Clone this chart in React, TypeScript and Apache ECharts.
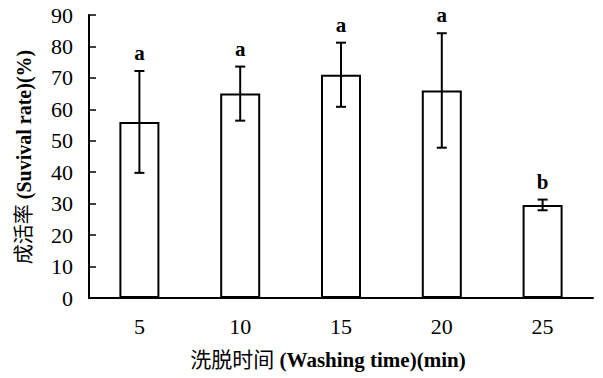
import React, { useEffect, useRef } from 'react';
import * as echarts from 'echarts';

const categories = ['5', '10', '15', '20', '25'];
const means = [56, 65, 71, 66, 29.6];
const errors = [16.2, 8.6, 10.2, 18.2, 1.7];
const letters = ['a', 'a', 'a', 'a', 'b'];
const yMin = 0;
const yMax = 90;
const yInterval = 10;
const yTitleCn = '成活率 ';
const yTitleEn = '(Suvival rate)(%)';
const xTitleCn = '洗脱时间 ';
const xTitleEn = '(Washing time)(min)';

const FONT = 'Liberation Serif, Noto Sans CJK SC, serif';

export default function App() {
  const ref = useRef<HTMLDivElement>(null);
  useEffect(() => {
    if (!ref.current) return;
    const chart = echarts.init(ref.current, undefined, { renderer: 'svg' });
    const errData = categories.map((_, i) => [i, means[i] - errors[i], means[i] + errors[i]]);
    chart.setOption({
      animation: false,
      backgroundColor: '#fff',
      textStyle: { fontFamily: FONT },
      grid: { left: 89, right: 10, top: 15, bottom: 80, containLabel: false },
      xAxis: {
        type: 'category',
        data: categories,
        axisLine: { lineStyle: { color: '#000', width: 2 } },
        axisTick: { inside: true, length: 6, alignWithLabel: false, lineStyle: { color: '#000', width: 1.5 } },
        axisLabel: { color: '#000', fontSize: 22, fontFamily: FONT, margin: 17 },
        splitLine: { show: false },
      },
      yAxis: {
        type: 'value',
        min: yMin,
        max: yMax,
        interval: yInterval,
        axisLine: { show: true, lineStyle: { color: '#000', width: 2 } },
        axisTick: { show: true, inside: true, length: 7, lineStyle: { color: '#000', width: 1.5 } },
        axisLabel: { color: '#000', fontSize: 22, fontFamily: FONT, margin: 16 },
        splitLine: { show: false },
      },
      series: [
        {
          type: 'bar',
          data: means,
          barWidth: 40,
          itemStyle: { color: '#fff', borderColor: '#000', borderWidth: 2 },
          z: 2,
        },
        {
          type: 'custom',
          data: errData,
          z: 3,
          renderItem: (params: any, api: any) => {
            const x = api.value(0);
            const lo = api.value(1);
            const hi = api.value(2);
            const pTop = api.coord([x, hi]);
            const pBot = api.coord([x, lo]);
            const cx = pTop[0];
            const hw = 5;
            const st = { stroke: '#000', lineWidth: 2 };
            return {
              type: 'group',
              children: [
                { type: 'line', shape: { x1: cx, y1: pTop[1], x2: cx, y2: pBot[1] }, style: st },
                { type: 'line', shape: { x1: cx - hw, y1: pTop[1], x2: cx + hw, y2: pTop[1] }, style: st },
                { type: 'line', shape: { x1: cx - hw, y1: pBot[1], x2: cx + hw, y2: pBot[1] }, style: st },
                {
                  type: 'text',
                  x: cx,
                  y: pTop[1] - 18,
                  style: {
                    text: letters[params.dataIndex],
                    fontSize: 21,
                    fontWeight: 'bold',
                    fontFamily: FONT,
                    fill: '#000',
                    align: 'center',
                    verticalAlign: 'middle',
                  },
                },
              ],
            };
          },
        },
      ],
      graphic: [
        {
          type: 'text',
          x: 24,
          y: 157,
          rotation: Math.PI / 2,
          style: {
            text: `{c|${yTitleCn}}{b|${yTitleEn}}`,
            align: 'center',
            verticalAlign: 'middle',
            rich: {
              c: { fontSize: 20, fontFamily: FONT, fill: '#000', color: '#000' },
              b: { fontSize: 20, fontWeight: 'bold', fontFamily: FONT, fill: '#000', color: '#000' },
            },
          },
        },
        {
          type: 'text',
          x: 328,
          y: 360,
          style: {
            text: `{c|${xTitleCn}}{b|${xTitleEn}}`,
            align: 'center',
            verticalAlign: 'middle',
            rich: {
              c: { fontSize: 21, fontFamily: FONT, fill: '#000', color: '#000' },
              b: { fontSize: 21, fontWeight: 'bold', fontFamily: FONT, fill: '#000', color: '#000' },
            },
          },
        },
      ],
    });
    return () => chart.dispose();
  }, []);
  return <div ref={ref} style={{ position: 'fixed', left: 0, top: 0, width: 603, height: 378 }} />;
}
